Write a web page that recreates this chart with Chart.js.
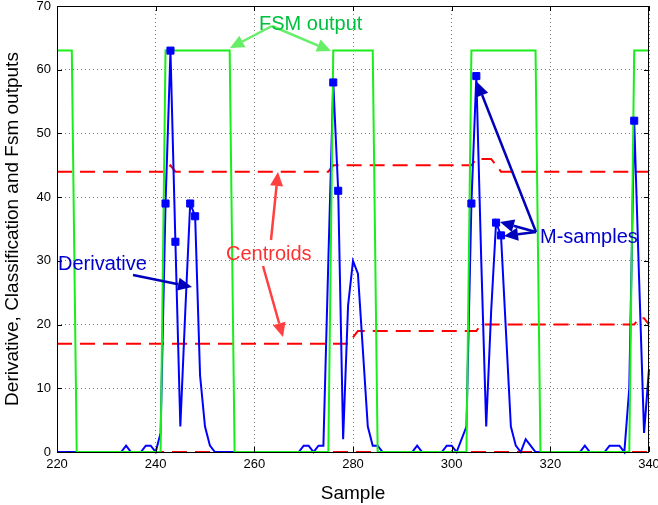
<!DOCTYPE html>
<html>
<head>
<meta charset="utf-8">
<script src="https://cdn.jsdelivr.net/npm/chart.js@4/dist/chart.umd.min.js"></script>
<style>
  html, body { margin: 0; padding: 0; background: #fff; }
  #wrap { width: 658px; height: 505px; }
</style>
</head>
<body>
<div id="wrap"><canvas id="c" width="658" height="505"></canvas></div>
<script>
// ---- data ----
const samples = [
  220,221,222,223,224,225,226,227,228,229,
  230,231,232,233,234,235,236,237,238,239,
  240,241,242,243,244,245,246,247,248,249,
  250,251,252,253,254,255,256,257,258,259,
  260,261,262,263,264,265,266,267,268,269,
  270,271,272,273,274,275,276,277,278,279,
  280,281,282,283,284,285,286,287,288,289,
  290,291,292,293,294,295,296,297,298,299,
  300,301,302,303,304,305,306,307,308,309,
  310,311,312,313,314,315,316,317,318,319,
  320,321,322,323,324,325,326,327,328,329,
  330,331,332,333,334,335,336,337,338,339,
  340
];
const derivative = [
  0,0,0,0,0,0,0,0,0,0,
  0,0,0,0,1,0,0,0,1,1,
  0,3,39,63,33,4,22,39,37,12,
  4,1,0,0,0,0,0,0,0,0,
  0,0,0,0,0,0,0,0,0,0,
  1,1,0,1,1,30,58,41,2,23,
  30,28,16,4,1,1,0,0,0,0,
  0,0,0,1,0,0,0,0,0,1,
  1,0,2,4,39,59,30,4,22,36,
  34,19,4,1,0,2,1,0,0,0,
  0,0,0,0,0,0,0,1,0,0,
  0,0,1,1,1,0,10,52,27,3,
  13
];
const fsmOutput = [
  63,63,63,63,0,0,0,0,0,0,
  0,0,0,0,0,0,0,0,0,0,
  0,0,63,63,63,63,63,63,63,63,
  63,63,63,63,63,63,0,0,0,0,
  0,0,0,0,0,0,0,0,0,0,
  0,0,0,0,0,0,63,63,63,63,
  63,63,63,63,63,0,0,0,0,0,
  0,0,0,0,0,0,0,0,0,0,
  0,0,0,0,63,63,63,63,63,63,
  63,63,63,63,63,63,63,63,0,0,
  0,0,0,0,0,0,0,0,0,0,
  0,0,0,0,0,0,0,63,63,63,
  63
];
const centroidHigh = [
  44,44,44,44,44,44,44,44,44,44,
  44,44,44,44,44,44,44,44,44,44,
  44,44,44,45,44,44,44,44,44,44,
  44,44,44,44,44,44,44,44,44,44,
  44,44,44,44,44,44,44,44,44,44,
  44,44,44,44,44,44,45,45,45,45,
  45,45,45,45,45,45,45,45,45,45,
  45,45,45,45,45,45,45,45,45,45,
  45,45,45,45,45,46,46,46,46,45,
  44,44,44,44,44,44,44,44,44,44,
  44,44,44,44,44,44,44,44,44,44,
  44,44,44,44,44,44,44,44,44,44,
  44
];
const centroidLow = [
  17,17,17,17,17,17,17,17,17,17,
  17,17,17,17,17,17,17,17,17,17,
  17,17,17,17,17,17,17,17,17,17,
  17,17,17,17,17,17,17,17,17,17,
  17,17,17,17,17,17,17,17,17,17,
  17,17,17,17,17,17,17,17,17,17,
  18,19,19,19,19,19,19,19,19,19,
  19,19,19,19,19,19,19,19,19,19,
  19,19,19,19,19,19,20,20,20,20,
  20,20,20,20,20,20,20,20,20,20,
  20,20,20,20,20,20,20,20,20,20,
  20,20,20,20,20,20,20,20,21,21,
  20
];
const centroidZero = [
  0,0,0,0,0,0,0,0,0,0,
  0,0,0,0,0,0,0,0,0,0,
  0,0,0,0,0,0,0,0,0,0,
  0,0,0,0,0,0,0,0,0,0,
  0,0,0,0,0,0,0,0,0,0,
  0,0,0,0,0,0,0,0,0,0,
  0,0,0,0,0,0,0,0,0,0,
  0,0,0,0,0,0,0,0,0,0,
  0,0,0,0,0,0,0,0,0,0,
  0,0,0,0,0,0,0,0,0,0,
  0,0,0,0,0,0,0,0,0,0,
  0,0,0,0,0,0,0,0,0,0,
  0
];
const mSampleX = [242,243,244,247,248,276,277,304,305,309,310,337];
const mSampleY = [39,63,33,39,37,58,41,39,59,36,34,52];

const xTicks = [220,240,260,280,300,320,340];
const yTicks = [0,10,20,30,40,50,60,70];

// ---- helpers ----
const pts = (xs, ys) => xs.map((x, i) => ({x: x, y: ys[i]}));
const FONT = "'Liberation Sans', Arial, Helvetica, sans-serif";

function arrow(ctx, x1, y1, x2, y2, color, lw, hl, hw) {
  const a = Math.atan2(y2 - y1, x2 - x1);
  const bx = x2 - hl * Math.cos(a), by = y2 - hl * Math.sin(a);
  ctx.save();
  ctx.strokeStyle = color; ctx.fillStyle = color; ctx.lineWidth = lw;
  ctx.beginPath(); ctx.moveTo(x1, y1); ctx.lineTo(bx, by); ctx.stroke();
  ctx.beginPath();
  ctx.moveTo(x2, y2);
  ctx.lineTo(bx + hw * Math.sin(a), by - hw * Math.cos(a));
  ctx.lineTo(bx - hw * Math.sin(a), by + hw * Math.cos(a));
  ctx.closePath(); ctx.fill();
  ctx.restore();
}

const framePlugin = {
  id: 'frame',
  afterDatasetsDraw(chart) {
    const {ctx, chartArea: a, scales} = chart;
    ctx.save();
    ctx.strokeStyle = '#000'; ctx.lineWidth = 1;
    ctx.strokeRect(Math.round(a.left) + 0.5, Math.round(a.top) + 0.5,
                   Math.round(a.right - a.left) - 1, Math.round(a.bottom - a.top));
    ctx.beginPath();
    xTicks.forEach(v => {
      const px = Math.round(scales.x.getPixelForValue(v)) + 0.5;
      ctx.moveTo(px, a.bottom); ctx.lineTo(px, a.bottom - 5);
      ctx.moveTo(px, a.top); ctx.lineTo(px, a.top + 5);
    });
    yTicks.forEach(v => {
      const py = Math.round(scales.y.getPixelForValue(v)) + 0.5;
      ctx.moveTo(a.left, py); ctx.lineTo(a.left + 5, py);
      ctx.moveTo(a.right, py); ctx.lineTo(a.right - 5, py);
    });
    ctx.stroke();
    ctx.restore();
  },
  afterDraw(chart) {
    const ctx = chart.ctx;
    // annotations
    arrow(ctx, 272, 26, 230, 48, '#66ee66', 2.5, 14, 6.5);
    arrow(ctx, 272, 26, 331, 51, '#66ee66', 2.5, 14, 6.5);
    arrow(ctx, 271, 240, 278, 172, '#ff4040', 2.5, 14, 6.5);
    arrow(ctx, 263, 266, 283, 337, '#ff4040', 2.5, 14, 6.5);
    arrow(ctx, 133, 275, 192, 287, '#0000bb', 2.5, 14, 6.5);
    arrow(ctx, 536, 232, 477, 82, '#0000bb', 2.5, 14, 6.5);
    arrow(ctx, 536, 232, 500, 222, '#0000bb', 2.5, 14, 6.5);
    arrow(ctx, 536, 232, 504, 236, '#0000bb', 2.5, 14, 6.5);
    ctx.save();
    ctx.font = '20px ' + FONT;
    ctx.textBaseline = 'alphabetic';
    ctx.textAlign = 'left';
    ctx.fillStyle = '#00c040'; ctx.fillText('FSM output', 259, 30);
    ctx.fillStyle = '#ff3030'; ctx.fillText('Centroids', 226, 260);
    ctx.fillStyle = '#0000cc'; ctx.fillText('Derivative', 58, 270);
    ctx.fillStyle = '#0000cc'; ctx.fillText('M-samples', 540, 243);
    ctx.restore();
  }
};

new Chart(document.getElementById('c'), {
  type: 'line',
  data: {
    datasets: [
      { label: 'M-samples', data: pts(mSampleX, mSampleY), showLine: false,
        pointStyle: 'rect', pointRadius: 5, pointBorderWidth: 1,
        pointBackgroundColor: '#0000ff', pointBorderColor: '#0000ff', order: 0 },
      { label: 'FSM output', data: pts(samples, fsmOutput), borderColor: '#1aee1a',
        borderWidth: 2, pointRadius: 0, tension: 0, order: 1 },
      { label: 'Derivative', data: pts(samples, derivative), borderColor: '#0000ff',
        borderWidth: 2, pointRadius: 0, tension: 0, order: 2 },
      { label: 'Centroid high', data: pts(samples, centroidHigh), borderColor: '#ff0000',
        borderWidth: 2, borderDash: [15, 8], pointRadius: 0, tension: 0, order: 3 },
      { label: 'Centroid low', data: pts(samples, centroidLow), borderColor: '#ff0000',
        borderWidth: 2, borderDash: [15, 8], pointRadius: 0, tension: 0, order: 4 },
      { label: 'Centroid zero', data: pts(samples, centroidZero), borderColor: '#ff0000',
        borderWidth: 2, borderDash: [15, 8], pointRadius: 0, tension: 0, order: 5 }
    ]
  },
  options: {
    responsive: false,
    animation: false,
    clip: false,
    layout: { padding: { left: 0, right: 9, top: 6, bottom: 0 } },
    plugins: { legend: { display: false }, tooltip: { enabled: false } },
    scales: {
      x: {
        type: 'linear', min: 220, max: 340,
        afterFit: s => { s.height = 53; s.paddingLeft = 0; s.paddingRight = 0; },
        afterBuildTicks: s => { s.ticks = xTicks.map(v => ({value: v})); },
        ticks: { stepSize: 20, padding: 5, color: '#000', maxRotation: 0,
                 font: { family: FONT, size: 13 } },
        grid: { color: '#777', lineWidth: 1, drawTicks: false },
        border: { display: false, dash: [1, 3] },
        title: { display: true, text: 'Sample', color: '#000',
                 font: { family: FONT, size: 19 }, padding: { top: 0, bottom: 0 } }
      },
      y: {
        min: 0, max: 70,
        afterFit: s => { s.width = 57; s.paddingTop = 0; s.paddingBottom = 0; },
        afterBuildTicks: s => { s.ticks = yTicks.map(v => ({value: v})); },
        ticks: { stepSize: 10, padding: 6, color: '#000',
                 font: { family: FONT, size: 13 } },
        grid: { color: '#777', lineWidth: 1, drawTicks: false },
        border: { display: false, dash: [1, 3] },
        title: { display: true, text: 'Derivative, Classification and Fsm outputs', color: '#000',
                 font: { family: FONT, size: 19 }, padding: { top: 1, bottom: 0 } }
      }
    }
  },
  plugins: [framePlugin]
});
</script>
</body>
</html>
